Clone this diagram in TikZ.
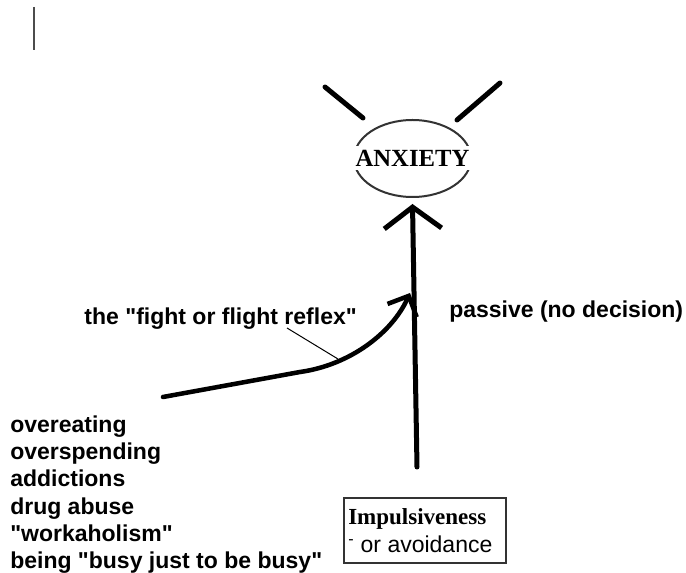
\documentclass[tikz,border=0pt]{standalone}
\usepackage{fontspec}
\setmainfont{Liberation Sans}
\newfontfamily\serifbf{Liberation Serif}
\usepackage{tikz}
\usetikzlibrary{arrows.meta, shapes.geometric}
\definecolor{penline}{gray}{0.20}
\definecolor{cursor}{gray}{0.30}
\newcommand{\dq}{\textquotedbl}
\tikzset{
  txt/.style={inner sep=0pt, font=\fontsize{17.25}{20.55}\selectfont\bfseries},
  thickpen/.style={line width=3.75pt, line cap=round},
}

\begin{document}
\begin{tikzpicture}[x=0.75pt, y=-0.75pt]
	\useasboundingbox (0,0) rectangle (686,573);

	% stray mark, top left
	\draw[cursor, line width=1.5pt] (34,7) -- (34,50);

	% anxiety ellipse with its two strokes
	\node[ellipse, draw=penline, line width=1.5pt, minimum width=87.75pt, minimum height=57.75pt, inner sep=0pt] (anx) at (412.5,158.5) {};
	\node[fill=white, inner xsep=3pt, inner ysep=0pt, minimum height=18pt, font=\serifbf\fontsize{18.5}{18.5}\selectfont\bfseries] (anxtxt) at (anx.center) {ANXIETY};
	\draw[thickpen] (325,87) -- (363,118);
	\draw[thickpen] (500,83) -- (457,120);

	% texts
	\node[txt, anchor=base east] (flight) at (357,325) {the \dq{}fight or flight reflex\dq{}};
	\node[txt, anchor=base west] (passive) at (449,318) {passive (no decision)};
	\node[txt, anchor=base west, align=left] (habits) at (10,569) {overeating\\overspending\\addictions\\drug abuse\\\dq{}workaholism\dq{}\\being \dq{}busy just to be busy\dq{}};

	% impulsiveness box
	\node[draw=penline, line width=1.5pt, minimum width=121.5pt, minimum height=48.75pt, anchor=north west, inner sep=0pt] (impbox) at (343,497) {};
	\node[anchor=base west, inner sep=0pt, font=\serifbf\fontsize{17.25}{20}\selectfont\bfseries] (imp) at (348,525) {Impulsiveness};
	\node[anchor=base west, inner sep=0pt, font=\fontsize{17.25}{20}\selectfont] (avoid) at (348,553) {\textsuperscript{-} or avoidance};

	\coordinate (drivestart) at (163,397);
	\coordinate (drivebend) at (300,372);
	\coordinate (drivetip) at (410,293);
	\coordinate (leadtop) at (287,328);
	\coordinate (leadfoot) at (338,359);
	\coordinate (impbase) at (417,467);

	% arrows
	\draw[thickpen, line width=3.4pt, -{Straight Barb[length=12pt,width=24pt]}] (drivestart) -- (drivebend) .. controls (350,365) and (392,333) .. (drivetip);
	\draw[line width=0.75pt] (leadtop) -- (leadfoot);
	\draw[thickpen, -{Straight Barb[length=16pt,width=43pt]}] (impbase) -- ([yshift=-4.5pt]anx.south);

\end{tikzpicture}
\end{document}
